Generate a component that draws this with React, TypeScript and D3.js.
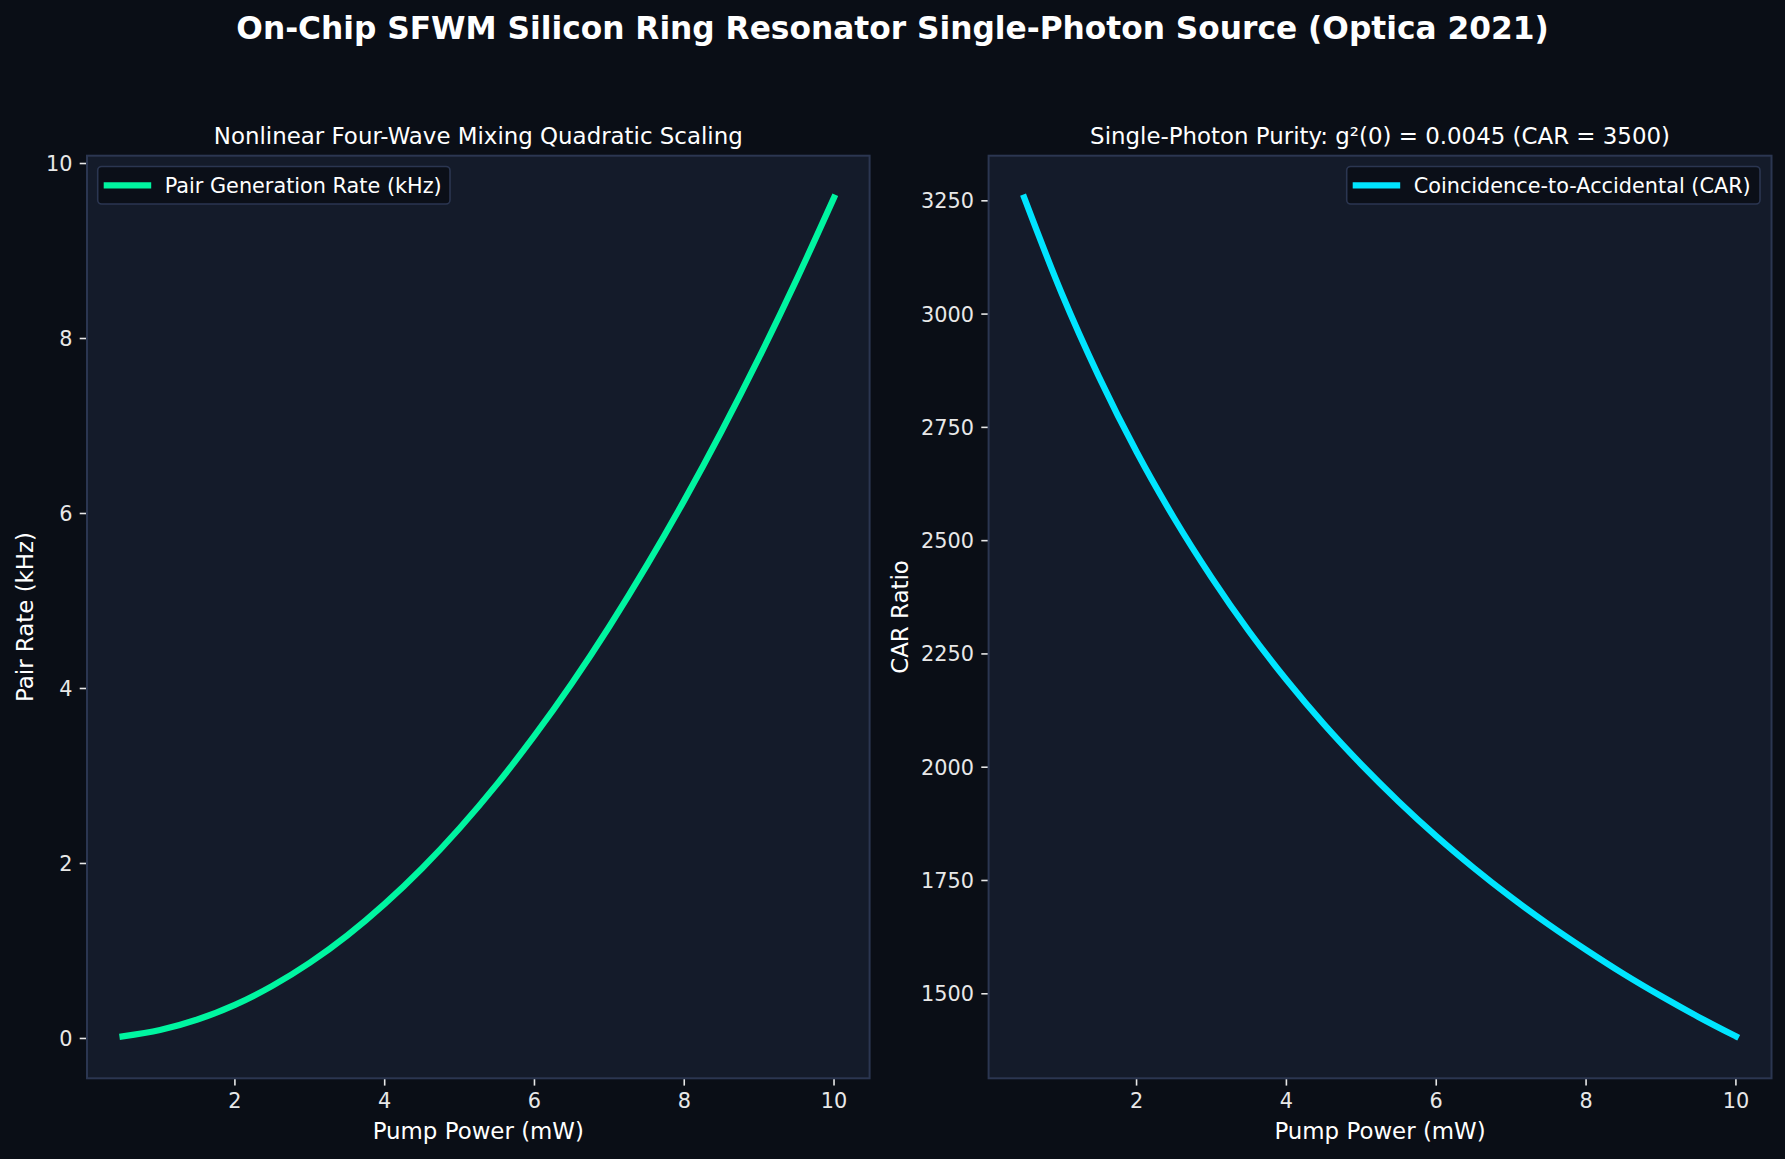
import * as d3 from "d3";
import { useEffect, useRef } from "react";

// pump power (mW)
const pumpPower = [0.5, 1, 1.5, 2, 2.5, 3, 3.5, 4, 4.5, 5, 5.5, 6, 6.5, 7, 7.5, 8, 8.5, 9, 9.5, 10];
// pair generation rate (kHz)
const pairRate = [
  0.024, 0.096, 0.216, 0.384, 0.601, 0.865, 1.177, 1.538, 1.946, 2.403, 2.907, 3.46, 4.06, 4.709, 5.406,
  6.15, 6.943, 7.784, 8.673, 9.61,
];
// coincidence-to-accidental ratio
const carRatio = [
  3257, 3046, 2861, 2696, 2550, 2419, 2300, 2193, 2095, 2006, 1924, 1848, 1778, 1713, 1653, 1597, 1544, 1495,
  1449, 1406,
];
const xTicks = [2, 4, 6, 8, 10];
const rateTicks = [0, 2, 4, 6, 8, 10];
const carTicks = [1500, 1750, 2000, 2250, 2500, 2750, 3000, 3250];

const W = 1785;
const H = 1159;
const FIG_BG = "#0a0e16";
const AX_BG = "#141b2a";
const SPINE = "#2b3651";
const LEGEND_BG = "#0b0f18";
const TEXT = "#ffffff";
const TICK_TEXT = "#e8e8e8";
const FONT = "DejaVu Sans, sans-serif";

export default function App() {
  const ref = useRef<SVGSVGElement>(null);

  useEffect(() => {
    if (!ref.current) return;
    document.body.style.margin = "0";
    document.body.style.background = FIG_BG;
    const el = ref.current;
    d3.select(el).selectAll("*").remove();

    const svg = d3.select(el).attr("width", W).attr("height", H).attr("viewBox", `0 0 ${W} ${H}`);
    svg.append("rect").attr("width", W).attr("height", H).attr("fill", FIG_BG);

    svg
      .append("text")
      .attr("x", W / 2)
      .attr("y", 39)
      .attr("text-anchor", "middle")
      .attr("fill", TEXT)
      .attr("font-family", FONT)
      .attr("font-weight", "bold")
      .attr("font-size", 31.25)
      .text("On-Chip SFWM Silicon Ring Resonator Single-Photon Source (Optica 2021)");

    const top = 155.7;
    const bottom = 1078.3;

    const panels = [
      {
        left: 87,
        right: 869.6,
        values: pairRate,
        yTicks: rateTicks,
        color: "#00f5a0",
        title: "Nonlinear Four-Wave Mixing Quadratic Scaling",
        ylabel: "Pair Rate (kHz)",
        legend: "Pair Generation Rate (kHz)",
        legendRight: false,
      },
      {
        left: 988.6,
        right: 1771.5,
        values: carRatio,
        yTicks: carTicks,
        color: "#00e5ff",
        title: "Single-Photon Purity: g²(0) = 0.0045 (CAR = 3500)",
        ylabel: "CAR Ratio",
        legend: "Coincidence-to-Accidental (CAR)",
        legendRight: true,
      },
    ];

    panels.forEach(p => {
      const xMin = d3.min(pumpPower)!;
      const xMax = d3.max(pumpPower)!;
      const xPad = (xMax - xMin) * 0.05;
      const x = d3
        .scaleLinear()
        .domain([xMin - xPad, xMax + xPad])
        .range([p.left, p.right]);
      const [yMin, yMax] = d3.extent(p.values) as [number, number];
      const yPad = (yMax - yMin) * 0.05;
      const y = d3
        .scaleLinear()
        .domain([yMin - yPad, yMax + yPad])
        .range([bottom, top]);

      const g = svg.append("g");
      g.append("rect")
        .attr("x", p.left)
        .attr("y", top)
        .attr("width", p.right - p.left)
        .attr("height", bottom - top)
        .attr("fill", AX_BG);

      // x axis ticks
      xTicks.forEach(t => {
        g.append("line")
          .attr("x1", x(t))
          .attr("x2", x(t))
          .attr("y1", bottom)
          .attr("y2", bottom + 7.3)
          .attr("stroke", TICK_TEXT)
          .attr("stroke-width", 1.6);
        g.append("text")
          .attr("x", x(t))
          .attr("y", bottom + 7.3 + 7.3 + 15.2)
          .attr("text-anchor", "middle")
          .attr("fill", TICK_TEXT)
          .attr("font-family", FONT)
          .attr("font-size", 20.8)
          .text(t);
      });

      // y axis ticks
      p.yTicks.forEach(t => {
        g.append("line")
          .attr("x1", p.left - 7.3)
          .attr("x2", p.left)
          .attr("y1", y(t))
          .attr("y2", y(t))
          .attr("stroke", TICK_TEXT)
          .attr("stroke-width", 1.6);
        g.append("text")
          .attr("x", p.left - 14.6)
          .attr("y", y(t) + 7.5)
          .attr("text-anchor", "end")
          .attr("fill", TICK_TEXT)
          .attr("font-family", FONT)
          .attr("font-size", 20.8)
          .text(t);
      });

      // data line
      const line = d3
        .line<number>()
        .x((_, i) => x(pumpPower[i]))
        .y(d => y(d))
        .curve(d3.curveMonotoneX);
      g.append("path")
        .datum(p.values)
        .attr("d", line)
        .attr("fill", "none")
        .attr("stroke", p.color)
        .attr("stroke-width", 6.25)
        .attr("stroke-linecap", "square");

      // spines
      g.append("rect")
        .attr("x", p.left)
        .attr("y", top)
        .attr("width", p.right - p.left)
        .attr("height", bottom - top)
        .attr("fill", "none")
        .attr("stroke", SPINE)
        .attr("stroke-width", 2);

      // titles & labels
      const cx = (p.left + p.right) / 2;
      g.append("text")
        .attr("x", cx)
        .attr("y", 144)
        .attr("text-anchor", "middle")
        .attr("fill", TEXT)
        .attr("font-family", FONT)
        .attr("font-size", 22.9)
        .text(p.title);
      g.append("text")
        .attr("x", cx)
        .attr("y", 1139)
        .attr("text-anchor", "middle")
        .attr("fill", TEXT)
        .attr("font-family", FONT)
        .attr("font-size", 22.9)
        .text("Pump Power (mW)");
      const lx = p.left - 14.6 - d3.max(p.yTicks, t => String(t).length)! * 13.2 - 8.3 - 4.5;
      g.append("text")
        .attr("transform", `translate(${lx},${(top + bottom) / 2}) rotate(-90)`)
        .attr("text-anchor", "middle")
        .attr("fill", TEXT)
        .attr("font-family", FONT)
        .attr("font-size", 22.9)
        .text(p.ylabel);

      // legend
      const legW = p.legendRight ? 413.3 : 352.3;
      const legX = p.legendRight ? p.right - 11.5 - legW : p.left + 10.7;
      const legY = 166.5;
      const legH = 37.5;
      g.append("rect")
        .attr("x", legX)
        .attr("y", legY)
        .attr("width", legW)
        .attr("height", legH)
        .attr("rx", 4)
        .attr("fill", LEGEND_BG)
        .attr("stroke", SPINE)
        .attr("stroke-width", 1.6);
      g.append("line")
        .attr("x1", legX + 6)
        .attr("x2", legX + 53.5)
        .attr("y1", legY + legH / 2)
        .attr("y2", legY + legH / 2)
        .attr("stroke", p.color)
        .attr("stroke-width", 6.25);
      g.append("text")
        .attr("x", legX + 67)
        .attr("y", legY + legH / 2 + 7.4)
        .attr("fill", TEXT)
        .attr("font-family", FONT)
        .attr("font-size", 20.8)
        .text(p.legend);
    });
  }, []);

  return <svg ref={ref} style={{ display: "block" }} />;
}
